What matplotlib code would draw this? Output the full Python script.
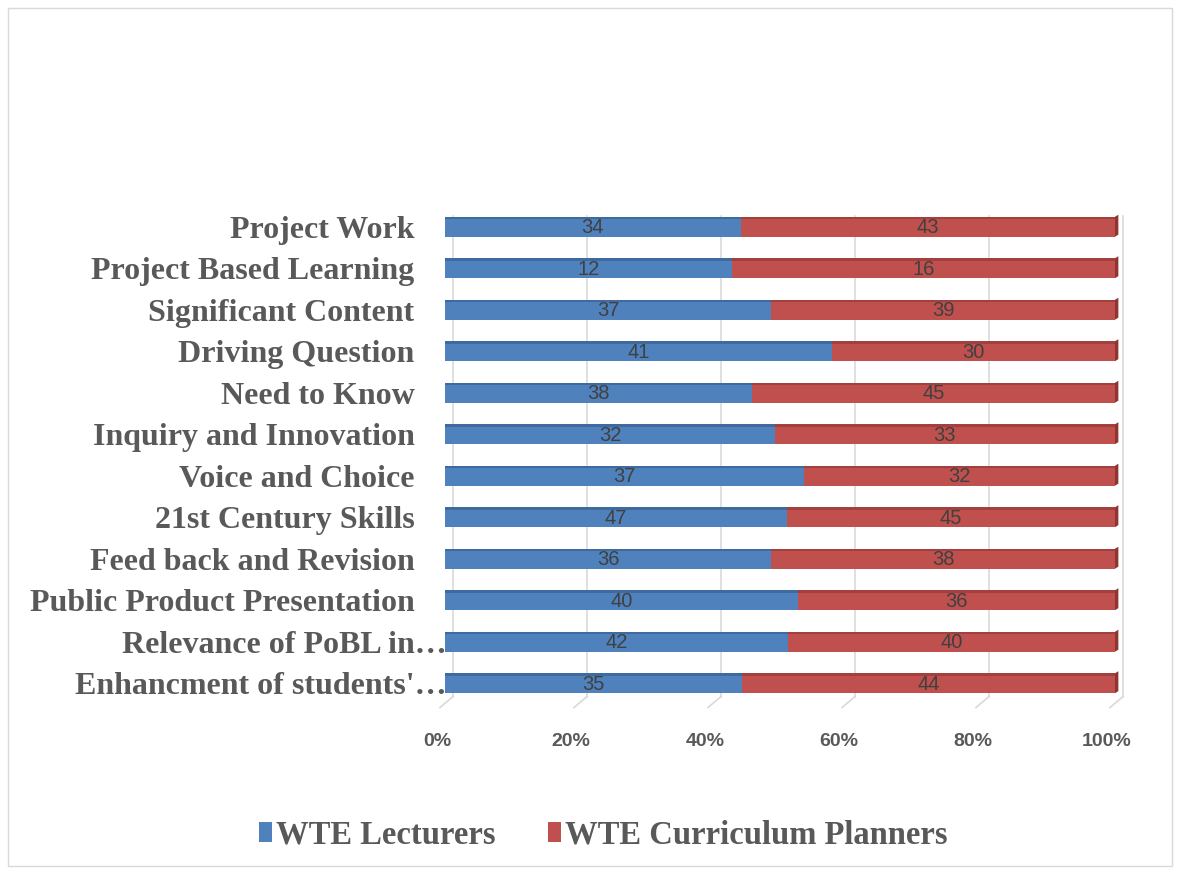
import matplotlib.pyplot as plt
from matplotlib.patches import Rectangle, Polygon
from matplotlib.transforms import offset_copy
import numpy as np

# categories listed top to bottom
categories = [
    "Project Work",
    "Project Based Learning",
    "Significant Content",
    "Driving Question",
    "Need to Know",
    "Inquiry and Innovation",
    "Voice and Choice",
    "21st Century Skills",
    "Feed back and Revision",
    "Public Product Presentation",
    "Relevance of PoBL in\u2026",
    "Enhancment of students'\u2026",
]
lecturers = [34, 12, 37, 41, 38, 32, 37, 47, 36, 40, 42, 35]
planners = [43, 16, 39, 30, 45, 33, 32, 45, 38, 36, 40, 44]
series_names = ["WTE Lecturers", "WTE Curriculum Planners"]
tick_labels = ["0%", "20%", "40%", "60%", "80%", "100%"]

BLUE = "#4f81bd"
RED = "#c0504d"
LABEL_GRAY = "#595959"
BAR_H = 0.48
PX_PER_UNIT = 670          # bar length for 100%, in pixels
GRID_SHIFT = 8 / 670       # grid sits a little right of the bars (3D look)
X0, X1 = -0.0125, 680 / 670

lec = np.array(lecturers, dtype=float)
pla = np.array(planners, dtype=float)
tot = lec + pla
lec_pct = lec / tot
pla_pct = pla / tot

W, H = 1183, 874
fig = plt.figure(figsize=(W / 100, H / 100), dpi=100)
fig.patches.append(Rectangle((8 / W, 8 / H), 1164 / W, 858 / H, transform=fig.transFigure,
                             fill=False, edgecolor="#d9d9d9", linewidth=1))

left_px = 445 + X0 * PX_PER_UNIT
width_px = (X1 - X0) * PX_PER_UNIT
ax = fig.add_axes([left_px / W, 1 - 704 / H, width_px / W, 498 / H])

y = np.arange(len(categories))[::-1]

ax.barh(y, lec_pct, height=BAR_H, color=BLUE, label=series_names[0], zorder=2)
ax.barh(y, pla_pct, left=lec_pct, height=BAR_H, color=RED, label=series_names[1], zorder=2)

# fake 3D: darker top strip and right end cap
for yi, lp in zip(y, lec_pct):
    ax.add_patch(Rectangle((0, yi + BAR_H / 2 - 0.06), lp, 0.06, color="#3f6a9f", zorder=3, linewidth=0))
    ax.add_patch(Rectangle((lp, yi + BAR_H / 2 - 0.06), 1 - lp, 0.06, color="#a33f3c", zorder=3, linewidth=0))
    ax.add_patch(Polygon([(1, yi - BAR_H / 2), (1, yi + BAR_H / 2), (1.005, yi + BAR_H / 2 + 0.05),
                          (1.005, yi - BAR_H / 2 + 0.05)], closed=True, color="#8e3431", zorder=3,
                         linewidth=0))

# value labels
for yi, lp, pp, lv, pv in zip(y, lec_pct, pla_pct, lecturers, planners):
    ax.text(lp / 2, yi - 0.03, str(lv), ha="center", va="center", fontsize=14.5,
            color="#404040", family="Liberation Sans", zorder=4)
    ax.text(lp + pp / 2, yi - 0.03, str(pv), ha="center", va="center", fontsize=14.5,
            color="#404040", family="Liberation Sans", zorder=4)

ax.set_yticks(y)
# full labels keep Excel's trailing blank; truncated ones run up to the bars
ylabels = [c if c.endswith("\u2026") else c + "    " for c in categories]
ax.set_yticklabels(ylabels, family="Liberation Serif", fontweight="bold", fontsize=23,
                   color=LABEL_GRAY)
ax.set_xticks([i * 0.2 - 0.012 for i in range(6)])
ax.set_xticklabels(tick_labels, family="Liberation Sans", fontweight="bold", fontsize=14,
                   color=LABEL_GRAY)
# limits last: set_xticks would otherwise widen them
ax.set_xlim(X0, X1)
ax.set_ylim(-0.5, len(categories) - 0.5)
# y labels measured from the bar start, not the axes edge
ypad = -1 + X0 * PX_PER_UNIT * 72 / 100
ax.tick_params(axis="y", length=0, pad=ypad)
ax.tick_params(axis="x", length=0, pad=21)
for s in ax.spines.values():
    s.set_visible(False)

# gridlines with a small slanted foot
xtr = ax.get_xaxis_transform()
foot = offset_copy(xtr, fig=fig, x=-13, y=-11, units="dots")
for i in range(6):
    gx = i * 0.2 + GRID_SHIFT
    ax.plot([gx, gx], [0.015, 0.98], transform=xtr, color="#d9d9d9", linewidth=1.2,
            zorder=0, clip_on=False)
    x0, y0 = xtr.transform((gx, 0.015))
    x1, y1 = foot.transform((gx, 0.015))
    fig.add_artist(plt.Line2D([x0 / W, x1 / W], [y0 / H, y1 / H], color="#d9d9d9",
                              linewidth=1.2, transform=fig.transFigure))
ax.set_xlim(X0, X1)

leg = fig.legend(loc="center", bbox_to_anchor=(603 / W, 1 - 835 / H), ncol=2, frameon=False,
                 prop={"family": "Liberation Serif", "weight": "bold", "size": 23.5},
                 handlelength=0.4, handleheight=0.6, handletextpad=0.12, columnspacing=1.6)
for t in leg.get_texts():
    t.set_color(LABEL_GRAY)

fig.savefig("out.png", dpi=100)
